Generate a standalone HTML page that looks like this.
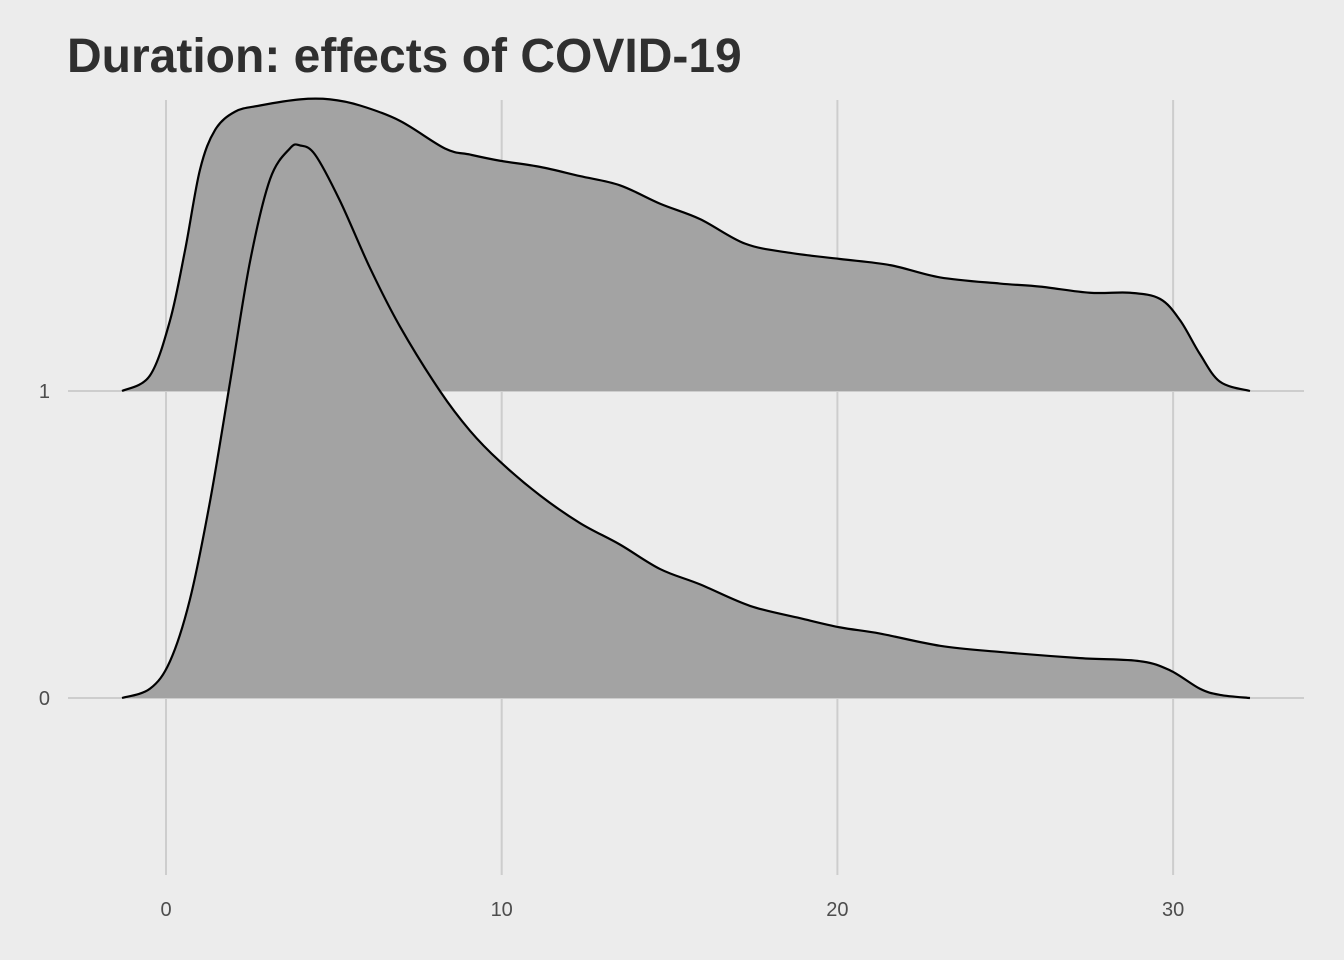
<!DOCTYPE html>
<html><head><meta charset="utf-8"><style>
html,body{margin:0;padding:0;background:#ececec;}
svg{display:block;font-family:"Liberation Sans",sans-serif;}
</style></head><body>
<svg id="chart" width="1344" height="960">
<rect width="1344" height="960" fill="#ececec"/>
<text x="67" y="72" font-size="48" font-weight="bold" fill="#2f2f2f">Duration: effects of COVID-19</text>
<g id="grid"></g><g id="ridges"></g><g id="labels"></g>
</svg>
<script>
const xTicks=[0,10,20,30];
const groups=[0,1];
const xs1=[-1.31,-0.48,0.12,0.57,1.01,1.46,2.06,2.80,3.99,4.89,5.78,6.97,8.31,9.06,9.95,11.14,12.33,13.52,14.72,15.91,17.25,18.59,20.08,21.57,23.06,24.84,26.04,27.52,28.72,29.61,30.21,30.80,31.40,32.29];
const hs1=[0,0.05,0.23,0.46,0.72,0.85,0.91,0.93,0.95,0.95,0.93,0.88,0.79,0.77,0.75,0.73,0.70,0.67,0.61,0.56,0.48,0.45,0.43,0.41,0.37,0.35,0.34,0.32,0.32,0.30,0.23,0.12,0.03,0];
const xs0=[-1.31,-0.48,0.12,0.71,1.31,1.91,2.50,3.10,3.69,3.99,4.44,5.18,6.08,6.97,8.16,9.06,9.95,11.14,12.33,13.52,14.72,15.91,17.40,18.89,20.08,21.27,23.06,24.84,27.23,29.01,29.91,30.80,31.40,32.29];
const hs0=[0,0.03,0.12,0.32,0.64,1.03,1.42,1.69,1.79,1.80,1.77,1.62,1.40,1.21,1.00,0.87,0.77,0.66,0.57,0.50,0.42,0.37,0.30,0.26,0.23,0.21,0.17,0.15,0.13,0.12,0.09,0.03,0.01,0];
const NS="http://www.w3.org/2000/svg";
const X=v=>166+v*33.57;
const Y=(g,h)=>698-(g+h)*307;
const grid=document.getElementById('grid'),rid=document.getElementById('ridges'),lab=document.getElementById('labels');
function mk(tag,attrs,parent){const e=document.createElementNS(NS,tag);for(const k in attrs)e.setAttribute(k,attrs[k]);parent.appendChild(e);return e;}
xTicks.forEach(t=>{
 const l=mk('line',{x1:X(t),x2:X(t),y1:100,y2:875,stroke:'#cdcdcd','stroke-width':2},grid);
 
 
 const tx=mk('text',{x:X(t),y:916,'font-size':20,fill:'#4d4d4d','text-anchor':'middle'},lab);
 tx.textContent=t;
 
 
});
groups.forEach(g=>{
 const l=mk('line',{x1:68,x2:1304,y1:Y(g,0),y2:Y(g,0),stroke:'#cdcdcd','stroke-width':2},grid);
 
 
 const tx=mk('text',{x:50,y:Y(g,0)+7,'font-size':20,fill:'#4d4d4d','text-anchor':'end'},lab);
 tx.textContent=g;
 
 
});
function smooth(pts){let d='M'+pts[0][0]+','+pts[0][1];for(let i=0;i<pts.length-1;i++){const p0=pts[Math.max(0,i-1)],p1=pts[i],p2=pts[i+1],p3=pts[Math.min(pts.length-1,i+2)];const c1=[p1[0]+(p2[0]-p0[0])/6,p1[1]+(p2[1]-p0[1])/6],c2=[p2[0]-(p3[0]-p1[0])/6,p2[1]-(p3[1]-p1[1])/6];d+=' C'+c1.join(',')+' '+c2.join(',')+' '+p2.join(',');}return d;}
[[1,xs1,hs1],[0,xs0,hs0]].forEach(([g,xs,hs])=>{
 const pts=xs.map((x,i)=>[X(x),Y(g,hs[i])]);
 const d=smooth(pts);
 const f=mk('path',{d:d+' Z',fill:'#a3a3a3',stroke:'none'},rid);
 
 
 const s=mk('path',{d:d,fill:'none',stroke:'#000','stroke-width':2.2},rid);
 
 
});
</script>
</body></html>
